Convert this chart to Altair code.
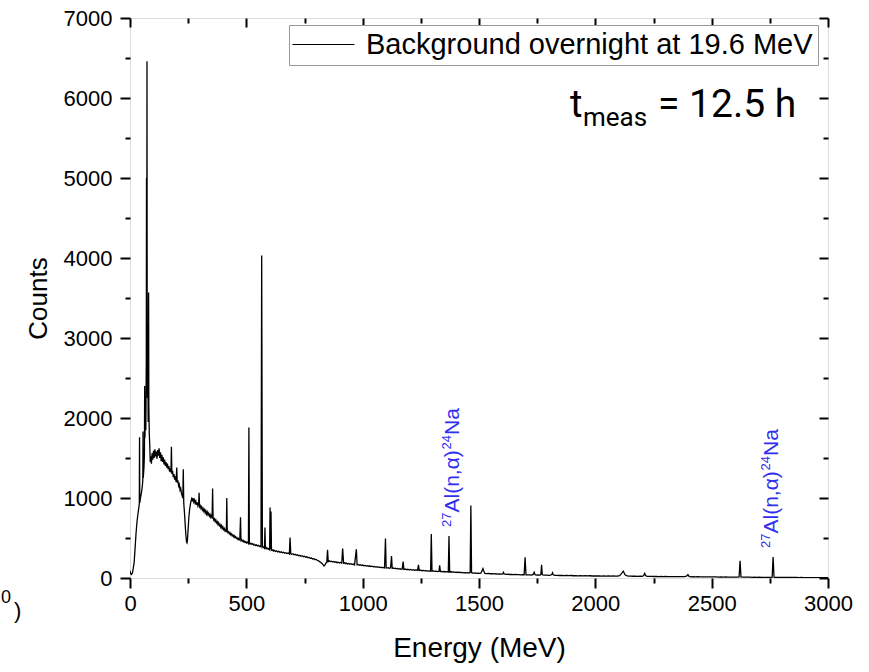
import altair as alt
import pandas as pd

SERIES = "Background overnight at 19.6 MeV"
FONT = "Liberation Sans"
# peak label "27Al(n,α)24Na", split into normal text and superscripts
LABEL_PARTS = ["27", "Al(n,α)", "24", "Na"]

# Spectrum: (energy in MeV, counts)
rise_0_90 = [
    (0, 90), (3, 55), (6, 45), (10, 60), (14, 120), (18, 200), (22, 380), (26, 560),
    (30, 700), (34, 800), (38, 880), (40, 930), (41, 1760), (42, 940), (45, 1000),
    (49, 1060), (53, 1150), (55, 1220), (56, 1830), (57, 1250), (60, 1380), (62, 1550),
    (63, 2400), (64, 1750), (66, 1950), (68, 1850), (70, 2700), (71, 5000), (72, 2900),
    (73, 6460), (74, 2600), (75, 2250), (77, 2650), (78, 1950), (80, 3570), (81, 2150),
    (83, 1800), (85, 1650), (87, 1450), (89, 1520),
]
plateau_90_270 = [
    (92, 1430), (95, 1560), (98, 1480), (101, 1590), (104, 1500), (107, 1610), (110, 1520),
    (113, 1580), (116, 1490), (119, 1600), (122, 1530), (125, 1620), (128, 1500), (131, 1570),
    (134, 1460), (137, 1540), (140, 1450), (143, 1510), (146, 1420), (149, 1480), (152, 1400),
    (155, 1450), (158, 1380), (161, 1430), (164, 1360), (167, 1400), (170, 1330), (173, 1370),
    (176, 1320), (178, 1640), (180, 1300), (183, 1340), (186, 1260), (189, 1300), (192, 1230),
    (195, 1270), (198, 1200), (201, 1380), (203, 1190), (206, 1220), (209, 1150), (212, 1170),
    (215, 1100), (218, 1120), (221, 1060), (224, 1030), (227, 1000), (229, 1360), (231, 940),
    (234, 820), (237, 680), (240, 540), (243, 450), (245, 440), (247, 480), (250, 620),
    (253, 760), (256, 850), (259, 910), (262, 960), (265, 990), (268, 960),
]
slope_270_570 = [
    (271, 1000), (274, 950), (277, 975), (280, 935), (283, 960), (286, 915), (289, 945),
    (292, 900), (295, 925), (297, 1065), (299, 890), (302, 905), (305, 870), (308, 890),
    (311, 850), (314, 870), (317, 835), (320, 855), (323, 815), (326, 840), (329, 800),
    (332, 825), (335, 790), (338, 810), (341, 775), (344, 795), (347, 760), (350, 780),
    (353, 745), (355, 1120), (357, 755), (360, 725), (363, 740), (366, 705), (369, 725),
    (372, 690), (375, 705), (378, 670), (381, 690), (384, 655), (387, 670), (390, 635),
    (393, 655), (396, 620), (399, 640), (402, 605), (405, 620), (408, 590), (411, 605),
    (414, 575), (416, 1000), (418, 580), (421, 565), (424, 578), (427, 552), (430, 565),
    (433, 540), (436, 552), (439, 528), (442, 540), (445, 515), (448, 528), (451, 505),
    (454, 515), (457, 495), (460, 505), (463, 485), (466, 495), (469, 475), (472, 485),
    (475, 760), (477, 468), (480, 478), (483, 460), (486, 470), (489, 452), (492, 460),
    (495, 445), (498, 455), (501, 438), (505, 448), (509, 432), (511, 1880), (513, 435),
    (516, 425), (520, 435), (524, 420), (528, 428), (532, 412), (536, 420), (540, 405),
    (544, 414), (548, 400), (552, 408), (556, 395), (560, 402), (563, 390), (566, 4030),
    (569, 395),
]
tail_570_1150 = [
    (572, 380), (575, 390), (578, 375), (580, 630), (582, 372), (585, 380), (588, 365),
    (591, 372), (594, 360), (597, 368), (600, 355), (602, 880), (604, 360), (606, 830),
    (608, 350), (611, 345), (614, 352), (617, 338), (620, 346), (625, 332), (630, 340),
    (635, 326), (640, 334), (645, 320), (650, 328), (655, 315), (660, 322), (665, 310),
    (670, 316), (675, 305), (680, 312), (685, 300), (688, 505), (691, 302), (695, 296),
    (700, 303), (705, 290), (710, 296), (715, 284), (720, 290), (725, 278), (730, 284),
    (735, 272), (740, 278), (745, 266), (750, 272), (755, 260), (760, 265), (765, 254),
    (770, 258), (775, 246), (780, 250), (785, 238), (790, 242), (795, 230), (800, 232),
    (805, 222), (810, 215), (815, 205), (820, 195), (825, 182), (830, 165), (834, 150),
    (838, 165), (842, 185), (846, 200), (849, 352), (852, 205), (856, 215), (860, 205),
    (865, 210), (870, 200), (875, 206), (880, 196), (885, 202), (890, 192), (895, 198),
    (900, 188), (905, 194), (910, 185), (914, 368), (918, 186), (922, 190), (926, 180),
    (930, 186), (935, 176), (940, 182), (945, 172), (950, 178), (955, 168), (960, 174),
    (965, 165), (973, 360), (976, 165), (980, 170), (985, 160), (990, 166), (995, 156),
    (1000, 162), (1005, 152), (1010, 158), (1015, 150), (1020, 155), (1025, 146),
    (1030, 152), (1035, 143), (1040, 148), (1045, 140), (1050, 145), (1055, 137),
    (1060, 142), (1065, 134), (1070, 139), (1075, 131), (1080, 136), (1085, 128),
    (1090, 133), (1094, 126), (1098, 495), (1101, 128), (1105, 124), (1110, 130),
    (1115, 122), (1120, 127), (1124, 275), (1127, 120), (1131, 125), (1135, 118),
    (1140, 122), (1145, 115), (1150, 119),
]
tail_1150_1700 = [
    (1155, 112), (1160, 116), (1165, 110), (1170, 114), (1174, 205), (1177, 108), (1182, 112),
    (1188, 105), (1194, 109), (1200, 102), (1206, 106), (1212, 99), (1218, 103), (1224, 97),
    (1230, 100), (1236, 95), (1240, 165), (1243, 94), (1250, 97), (1256, 91), (1262, 94),
    (1268, 89), (1274, 92), (1280, 87), (1286, 90), (1292, 85), (1295, 550), (1298, 86),
    (1304, 88), (1310, 83), (1316, 86), (1322, 81), (1328, 84), (1331, 158), (1334, 80),
    (1340, 83), (1346, 78), (1352, 81), (1358, 76), (1364, 79), (1368, 75), (1371, 525),
    (1374, 76), (1380, 78), (1386, 73), (1392, 76), (1398, 71), (1404, 74), (1410, 69),
    (1416, 72), (1422, 67), (1428, 70), (1434, 65), (1440, 68), (1446, 64), (1452, 66),
    (1458, 62), (1462, 70), (1465, 905), (1468, 68), (1472, 62), (1478, 60), (1484, 63),
    (1490, 58), (1496, 61), (1502, 57), (1508, 60), (1514, 95), (1517, 118), (1520, 92),
    (1525, 58), (1532, 55), (1540, 57), (1548, 53), (1556, 55), (1564, 51), (1572, 53),
    (1580, 49), (1588, 51), (1596, 48), (1602, 52), (1605, 70), (1608, 50), (1616, 46),
    (1624, 48), (1632, 44), (1640, 46), (1648, 42), (1656, 44), (1664, 41), (1672, 43),
    (1680, 40), (1688, 42), (1694, 40),
]
tail_1700_2400 = [
    (1698, 258), (1702, 40), (1710, 38), (1718, 40), (1726, 37), (1733, 45), (1737, 72),
    (1741, 42), (1748, 36), (1756, 38), (1762, 36), (1766, 45), (1769, 165), (1772, 40),
    (1780, 35), (1790, 36), (1800, 33), (1808, 35), (1813, 45), (1816, 65), (1819, 40),
    (1826, 32), (1836, 34), (1846, 31), (1856, 33), (1866, 30), (1876, 32), (1886, 29),
    (1896, 31), (1906, 28), (1916, 30), (1926, 27), (1936, 29), (1946, 27), (1956, 28),
    (1966, 26), (1976, 28), (1986, 25), (1996, 27), (2006, 25), (2016, 26), (2026, 24),
    (2036, 26), (2046, 24), (2056, 25), (2066, 23), (2076, 25), (2086, 23), (2096, 25),
    (2104, 30), (2110, 45), (2116, 70), (2120, 85), (2124, 62), (2128, 40), (2134, 28),
    (2142, 23), (2152, 24), (2162, 22), (2172, 23), (2182, 21), (2192, 23), (2202, 21),
    (2208, 30), (2212, 58), (2216, 30), (2222, 21), (2232, 20), (2242, 21), (2252, 19),
    (2262, 20), (2272, 18), (2282, 19), (2292, 18), (2302, 19), (2312, 17), (2322, 18),
    (2332, 17), (2342, 18), (2352, 16), (2362, 17), (2372, 16), (2382, 17), (2392, 22),
    (2398, 42),
]
tail_2400_3000 = [
    (2402, 22), (2410, 15), (2420, 16), (2430, 15), (2440, 16), (2450, 14), (2460, 15),
    (2470, 14), (2480, 15), (2490, 13), (2500, 14), (2510, 13), (2520, 14), (2530, 12),
    (2540, 13), (2550, 12), (2560, 13), (2570, 11), (2580, 12), (2590, 11), (2600, 12),
    (2610, 11), (2618, 14), (2622, 215), (2626, 14), (2634, 10), (2644, 11), (2654, 10),
    (2664, 11), (2674, 9), (2684, 10), (2694, 9), (2704, 10), (2714, 9), (2724, 9),
    (2734, 8), (2744, 9), (2754, 8), (2760, 10), (2764, 262), (2768, 10), (2776, 8),
    (2786, 8), (2796, 7), (2806, 8), (2816, 7), (2826, 7), (2836, 6), (2846, 7), (2856, 6),
    (2866, 6), (2876, 5), (2886, 6), (2896, 5), (2906, 5), (2916, 5), (2926, 4), (2936, 5),
    (2946, 4), (2956, 4), (2966, 4), (2976, 3), (2986, 4), (2996, 3), (3000, 3),
]

x_major = [0, 500, 1000, 1500, 2000, 2500, 3000]
x_minor = [250, 750, 1250, 1750, 2250, 2750]
y_major = [0, 1000, 2000, 3000, 4000, 5000, 6000, 7000]
y_minor = [500, 1500, 2500, 3500, 4500, 5500, 6500]

# where the two rotated peak labels start (energy, counts)
ann_energy = [1380, 2751]
ann_counts = [637, 375]

rows = (rise_0_90 + plateau_90_270 + slope_270_570 + tail_570_1150
        + tail_1150_1700 + tail_1700_2400 + tail_2400_3000)
df = pd.DataFrame(rows, columns=["energy", "counts"])
df["series"] = SERIES

ann_df = pd.DataFrame({"energy": ann_energy, "counts": ann_counts})
ref_df = pd.DataFrame({"energy": [0, 3000], "counts": [0, 7000]})
one_df = ref_df.head(1)

x_scale = alt.Scale(domain=[0, 3000], nice=False, zero=False)
y_scale = alt.Scale(domain=[0, 7000], nice=False, zero=False)

common_axis = dict(grid=False, domain=False, tickColor="black", tickWidth=2,
                   labelColor="black", titleColor="black", labelFont=FONT,
                   titleFont=FONT, titleFontWeight="normal")

line = alt.Chart(df).mark_line(strokeWidth=1.3, clip=True).encode(
    x=alt.X("energy:Q", scale=x_scale,
            axis=alt.Axis(orient="bottom", values=x_major, format="d",
                          title="Energy (MeV)", labelFontSize=22, titleFontSize=28,
                          tickSize=10, labelPadding=5, titlePadding=20,
                          labelFlush=False, **common_axis)),
    y=alt.Y("counts:Q", scale=y_scale,
            axis=alt.Axis(orient="left", values=y_major, format="d",
                          title="Counts", labelFontSize=22, titleFontSize=26,
                          tickSize=10, labelPadding=8, titlePadding=12,
                          labelFlush=False, **common_axis)),
    color=alt.Color("series:N", scale=alt.Scale(range=["black"]),
                    legend=alt.Legend(title=None, orient="none", legendX=159, legendY=7,
                                      symbolType="M-3.2,0H9.2", symbolSize=100,
                                      symbolStrokeWidth=1.2, labelFont=FONT,
                                      labelFontSize=29, labelColor="black",
                                      labelOffset=43, padding=5, strokeColor="#999999",
                                      fillColor="white", labelLimit=0)),
)


def tick_layer(xaxis, yaxis):
    return alt.Chart(ref_df).mark_point(opacity=0).encode(
        x=alt.X("energy:Q", scale=x_scale, axis=xaxis),
        y=alt.Y("counts:Q", scale=y_scale, axis=yaxis),
    )


minor_bl = tick_layer(
    alt.Axis(orient="bottom", values=x_minor, labels=False, title=None, tickSize=5, **common_axis),
    alt.Axis(orient="left", values=y_minor, labels=False, title=None, tickSize=5, **common_axis),
)
major_tr = tick_layer(
    alt.Axis(orient="top", values=x_major, labels=False, title=None, tickSize=9, offset=-9, **common_axis),
    alt.Axis(orient="right", values=y_major, labels=False, title=None, tickSize=9, offset=-9, **common_axis),
)
minor_tr = tick_layer(
    alt.Axis(orient="top", values=x_minor, labels=False, title=None, tickSize=5, offset=-5, **common_axis),
    alt.Axis(orient="right", values=y_minor, labels=False, title=None, tickSize=5, offset=-5, **common_axis),
)

# rotated label pieces: (font size, offset along text, baseline shift)
piece_style = [(13, 0, 0), (21, 14.5, 7.5), (13, 77.5, 0), (21, 92, 7.5)]
ann_layers = []
for part, (size, along, shift) in zip(LABEL_PARTS, piece_style):
    ann_layers.append(
        alt.Chart(ann_df).mark_text(angle=270, align="left", baseline="alphabetic",
                                    fontSize=size, font=FONT, color="#2f2ff0",
                                    dx=along, dy=shift).encode(
            x=alt.X("energy:Q", scale=x_scale, axis=None),
            y=alt.Y("counts:Q", scale=y_scale, axis=None),
            text=alt.value(part),
        )
    )


def free_text(txt, px, py, size, font="Roboto"):
    return alt.Chart(one_df).mark_text(align="left", baseline="alphabetic",
                                       fontSize=size, font=font, color="black").encode(
        x=alt.value(px), y=alt.value(py), text=alt.value(txt))


t_big = free_text("t", 440, 99, 38)
t_sub = free_text("meas", 453, 108, 26)
t_rest = free_text("= 12.5 h", 528, 99, 39)
stray_zero = free_text("0", -129, 585, 18, FONT)
stray_paren = free_text(")", -116, 600, 22, FONT)

chart = alt.layer(line, minor_bl, major_tr, minor_tr, *ann_layers, t_big, t_sub, t_rest,
                  stray_zero, stray_paren).resolve_axis(
    x="independent", y="independent"
).properties(
    width=698, height=560,
    autosize=alt.AutoSizeParams(type="none"),
    padding={"left": 130, "top": 18, "right": 41, "bottom": 94},
).configure_view(stroke="black", strokeWidth=2).configure(background="white")

chart.save("out.html", embed_options={"renderer": "svg", "actions": False})
